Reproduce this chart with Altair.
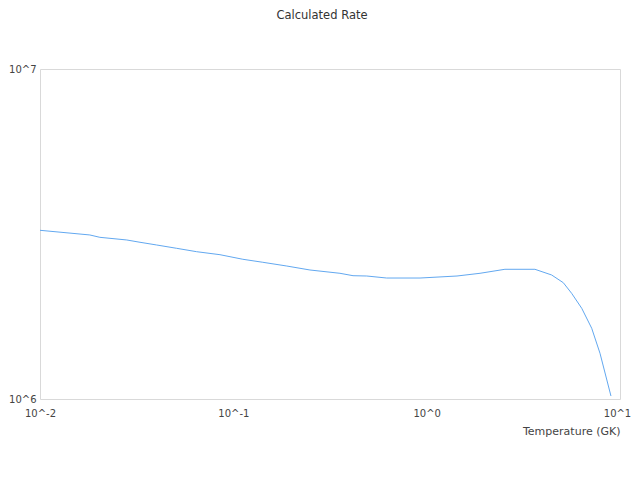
import altair as alt
import pandas as pd

temperature = [0.01, 0.0181, 0.0204, 0.0281, 0.0329, 0.0401, 0.0509, 0.0646,
               0.0853, 0.112, 0.142, 0.189, 0.249, 0.356, 0.416, 0.49, 0.621,
               0.924, 1.435, 1.888, 2.54, 3.63, 4.43, 5.09, 5.62, 6.34, 7.14,
               7.88, 8.98]
rate = [3.245e6, 3.141e6, 3.090e6, 3.033e6, 2.985e6, 2.929e6, 2.862e6, 2.795e6,
        2.737e6, 2.651e6, 2.596e6, 2.529e6, 2.460e6, 2.404e6, 2.364e6, 2.359e6,
        2.326e6, 2.326e6, 2.359e6, 2.404e6, 2.472e6, 2.472e6, 2.376e6, 2.251e6,
        2.091e6, 1.883e6, 1.638e6, 1.376e6, 1.021e6]

x_ticks = [0.01, 0.1, 1, 10]
y_ticks = [1e6, 1e7]

df = pd.DataFrame({"T": temperature, "R": rate})

label_expr = "'10^' + round(log(datum.value) / LN10)"

chart = alt.Chart(df).mark_line(color="#62a8f0", strokeWidth=1, clip=True).encode(
    x=alt.X("T:Q", scale=alt.Scale(type="log", domain=[0.01, 10], nice=False),
            axis=alt.Axis(values=x_ticks, labelExpr=label_expr, title="Temperature (GK)",
                          grid=False, ticks=False, domain=False, labelPadding=9,
                          labelFlush=False, labelOverlap=False,
                          labelOffset={"condition": {"test": "datum.value >= 10", "value": -3},
                                       "value": 0},
                          titleAnchor="end", titleAlign="right", titlePadding=7,
                          labelFontSize=10, titleFontSize=11, labelColor="#444",
                          titleColor="#444", titleFontWeight="normal",
                          labelFont="DejaVu Sans", titleFont="DejaVu Sans")),
    y=alt.Y("R:Q", scale=alt.Scale(type="log", domain=[1e6, 1e7], nice=False),
            axis=alt.Axis(values=y_ticks, labelExpr=label_expr, title=None,
                          grid=False, ticks=False, domain=False, labelPadding=4,
                          labelFlush=False, labelOverlap=False,
                          labelFontSize=10, labelColor="#444",
                          labelFont="DejaVu Sans")),
).properties(
    width=580,
    height=330,
    title=alt.TitleParams("Calculated Rate", fontSize=11.5, font="DejaVu Sans",
                          fontWeight="normal", color="#333", offset=43, dx=-8),
    autosize="none",
    padding={"left": 32, "top": 61, "right": 12, "bottom": 40},
).configure_view(stroke="#d9d9d9", strokeWidth=1)

chart.save("out.html", embed_options={"renderer": "svg", "actions": False})
